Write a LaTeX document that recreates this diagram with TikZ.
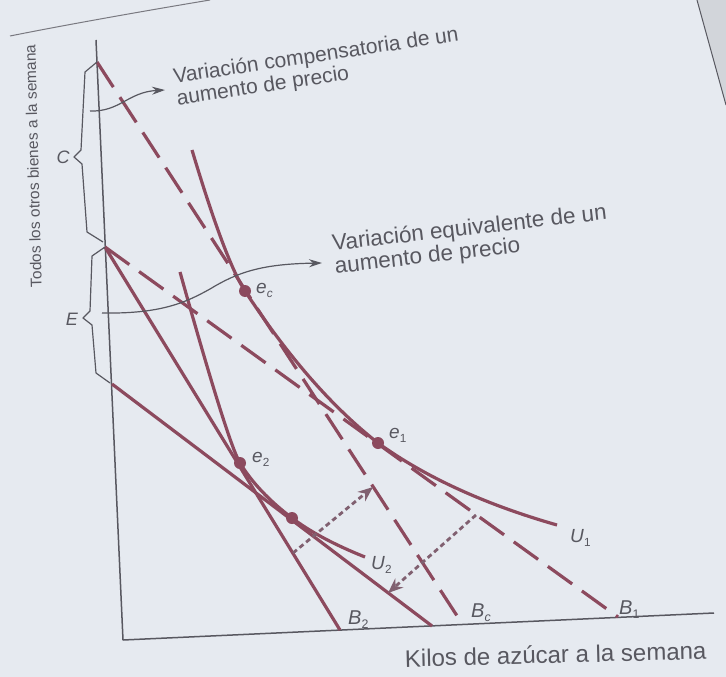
\documentclass[tikz,border=0pt]{standalone}
\usepackage{fontspec}
\setmainfont{Liberation Sans}
\usetikzlibrary{arrows.meta}
\definecolor{mar}{RGB}{140,74,94}
\definecolor{ink}{RGB}{88,88,96}
\definecolor{paper}{RGB}{230,234,240}
\definecolor{dotc}{RGB}{128,96,112}
\definecolor{edgepage}{RGB}{210,213,218}
\newcommand{\lblsub}[2]{\textit{#1}\raisebox{-0.4ex}{\scalebox{0.62}{#2}}}
\begin{document}
\begin{tikzpicture}[x=1pt,y=-1pt,line join=round,
  every node/.style={text=ink,inner sep=0pt},
  axisline/.style={draw=ink,line width=1.5pt},
  budget/.style={draw=mar,line width=3.2pt},
  dashedbudget/.style={draw=mar,line width=3.2pt,dash pattern=on 30pt off 12pt},
  icurve/.style={draw=mar,line width=3.2pt},
  dotarrow/.style={draw=dotc,line width=2.8pt,dash pattern=on 5pt off 3.5pt,-{Stealth[length=15pt,width=12pt]}},
  leader/.style={draw=ink,line width=1.2pt,-{Stealth[length=13pt,width=8pt]}},
  bracestyle/.style={draw=ink,line width=1.2pt},
  eqpt/.style={circle,fill=mar,minimum size=12pt,inner sep=0pt},
  lab/.style={font=\fontsize{19}{19}\selectfont},
  blab/.style={font=\fontsize{20}{20}\selectfont}]
\useasboundingbox (0,0) rectangle (726,677);
\fill[paper] (0,0) rectangle (726,677);
% page edge details
\fill[edgepage] (697,0) -- (726,0) -- (726,105) -- cycle;
\draw[ink,line width=1pt] (697,0) -- (726,105);
\draw[ink!80,line width=1pt] (10,36) .. controls (70,24) and (150,10) .. (210,0);

% axes
\coordinate (Ytop) at (96,40);
\coordinate (O) at (123,640);
\coordinate (Xend) at (714,613);
\draw[axisline] (Ytop) -- (O) -- (Xend);

% intercepts
\coordinate (C0) at (97,62);
\coordinate (E0) at (105,247);
\coordinate (F0) at (112,384);
\coordinate (B2f) at (340,630);
\coordinate (Lf) at (432,626);
\coordinate (Bcf) at (463,625);
\coordinate (B1f) at (618,617);

% budget lines
\draw[dashedbudget] (C0) -- (Bcf);
\draw[dashedbudget] (E0) -- (B1f);
\draw[budget] (E0) -- (B2f);
\draw[budget] (F0) -- (Lf);

% equilibrium points
\node[eqpt] (ec) at (245,291) {};
\node[eqpt] (e1) at (378,443) {};
\node[eqpt] (e2) at (240,463) {};
\node[eqpt] (D) at (292,518) {};

% indifference curves
\coordinate (U1a) at (192,150);
\coordinate (U1b) at (557,525);
\draw[icurve] (U1a) .. controls (214.1,223.6) and (231.7,270.6) .. (ec.center)
  .. controls (288.3,357) and (332.7,407.7) .. (e1.center)
  .. controls (425.2,477.1) and (484.9,504.4) .. (U1b);
\coordinate (U2a) at (180,272);
\coordinate (U2b) at (365,557);
\draw[icurve] (U2a) .. controls (212,386.3) and (232,450) .. (e2.center)
  .. controls (251.9,482.5) and (269.3,500.8) .. (D.center)
  .. controls (310.3,531.9) and (334.7,544.9) .. (U2b);

% dotted arrows
\coordinate (p1) at (293,553);
\coordinate (q1) at (373,487);
\coordinate (p2) at (476,515);
\coordinate (q2) at (388,593);
\draw[dotarrow] (p1) -- (q1);
\draw[dotarrow] (p2) -- (q2);

% braces
\draw[bracestyle] (C0) -- (85,72) -- (81,150) -- (74,157) -- (82,164) -- (87,232) -- (103,242);
\draw[bracestyle] (E0) -- (92,256) -- (90,311) -- (83,318) -- (92,325) -- (96,373) -- (110,383);
\node[font=\fontsize{18}{18}\selectfont\itshape] (Clab) at (63,157) {C};
\node[font=\fontsize{18}{18}\selectfont\itshape] (Elab) at (72,319) {E};

% labels
\node[lab,anchor=base west] (ecl) at (256,293) {\lblsub{e}{\textit{c}}};
\node[lab,anchor=base west] (e1l) at (389,438) {\lblsub{e}{1}};
\node[lab,anchor=base west] (e2l) at (252,462) {\lblsub{e}{2}};
\node[lab,anchor=base west] (U2l) at (371,569) {\lblsub{U}{2}};
\node[lab,anchor=base west] (U1l) at (570,542) {\lblsub{U}{1}};
\node[blab,anchor=base west] (B2l) at (348,624) {\lblsub{B}{2}};
\node[blab,anchor=base west] (Bcl) at (471,617) {\lblsub{B}{\textit{c}}};
\node[blab,anchor=base west] (B1l) at (619,614) {\lblsub{B}{1}};

% annotation texts
\node[rotate=8.5,anchor=north west,align=left,font=\fontsize{21}{22}\selectfont] (vc) at (172,68) {Variación compensatoria de un\\aumento de precio};
\node[rotate=6.5,anchor=north west,align=left,font=\fontsize{22.5}{23}\selectfont] (ve) at (331,234) {Variación equivalente de un\\aumento de precio};

% leaders
\coordinate (l1s) at (90,111);
\coordinate (l1e) at (165,90);
\draw[leader] (l1s) .. controls (120,112) and (128,92) .. (l1e);
\coordinate (l2s) at (102,313);
\coordinate (l2e) at (322,263);
\draw[leader] (l2s) .. controls (160,314) and (185,303) .. (210,289) .. controls (238,272) and (262,264) .. (l2e);

% axis titles
\node[rotate=91.5,font=\fontsize{15.5}{15.5}\selectfont] (ylab) at (33,166) {Todos los otros bienes a la semana};
\node[rotate=1.5,anchor=base west,font=\fontsize{24}{24}\selectfont] (xlab) at (405,667) {Kilos de azúcar a la semana};
\end{tikzpicture}
\end{document}
